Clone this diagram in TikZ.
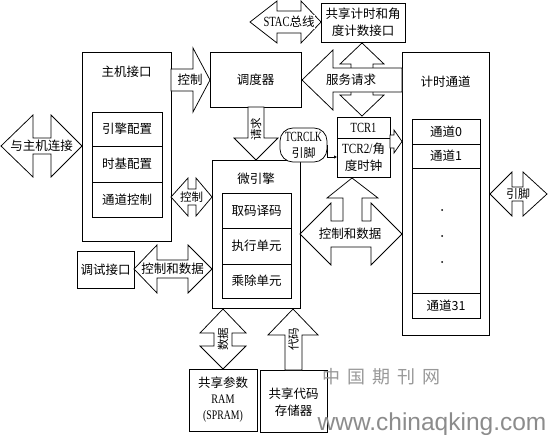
\documentclass[tikz,border=0pt]{standalone}
\usepackage{fontspec}
\setmainfont{Noto Sans CJK SC}
\newfontfamily\lat{Liberation Serif}
\newfontfamily\wmfont{Liberation Sans}
\usetikzlibrary{arrows.meta}
\newcommand{\latx}[3]{\scalebox{#1}[1]{\lat\fontsize{#2}{14}\selectfont #3}}
\tikzset{
  box/.style={draw, line width=0.75pt, inner sep=0pt, outer sep=0pt, anchor=north west},
  barrow/.style={draw, fill=white, line width=0.75pt, line join=miter},
  lbl/.style={fill=white, inner xsep=0.5pt, inner ysep=1pt},
  vlbl/.style={fill=white, inner xsep=0.5pt, inner ysep=0.5pt, rotate=90, font=\fontsize{11.5}{12}\selectfont},
  every node/.style={font=\fontsize{12.5}{17}\selectfont}
}
\begin{document}
\begin{tikzpicture}[x=1pt,y=-1pt]
\fill[white] (0,0) rectangle (548,434);
\useasboundingbox (0,0) rectangle (548,434);

% ---- boxes ----
\node[box, minimum width=89, minimum height=189] (host) at (82,52) {};
\node (hostt) at (126.5,72) {主机接口};
\node[box, minimum width=70, minimum height=34] (h1) at (92,112) {};
\node[box, minimum width=70, minimum height=36] (h2) at (92,146) {};
\node[box, minimum width=70, minimum height=35] (h3) at (92,182) {};
\node at (h1.center) {引擎配置};
\node at (h2.center) {时基配置};
\node at (h3.center) {通道控制};

\node[box, minimum width=91, minimum height=55] (sched) at (210,52) {};
\node at (sched.center) {调度器};

\node[box, minimum width=88, minimum height=148] (eng) at (212,160) {};
\node (engt) at (256,179) {微引擎};
\node[box, minimum width=69, minimum height=35] (e1) at (222,193) {};
\node[box, minimum width=69, minimum height=36] (e2) at (222,228) {};
\node[box, minimum width=69, minimum height=34] (e3) at (222,264) {};
\node at (e1.center) {取码译码};
\node at (e2.center) {执行单元};
\node at (e3.center) {乘除单元};

\node[box, minimum width=57, minimum height=37] (dbg) at (77,251) {};
\node at (dbg.center) {调试接口};

\node[box, minimum width=68, minimum height=62] (spram) at (189,369) {};
\node[align=center, font=\fontsize{12.5}{16}\selectfont] at (spram.center) {共享参数\\\latx{0.78}{13}{RAM}\\\latx{0.75}{13}{(SPRAM)}};

\node[box, minimum width=67, minimum height=62] (code) at (260,370) {};
\node[align=center] at ([yshift=-1]code.center) {共享代码\\存储器};

\node[box, minimum width=84, minimum height=39] (shr) at (321,3) {};
\node[align=center] at (shr.center) {共享计时和角\\度计数接口};

\node[box, minimum width=87, minimum height=283] (tmr) at (402,52) {};
\node (tmrt) at (445.5,82) {计时通道};
\node[box, minimum width=68, minimum height=199] (tin) at (412,119) {};
\node[box, minimum width=68, minimum height=25] (c0) at (412,119) {};
\node[box, minimum width=68, minimum height=24] (c1) at (412,144) {};
\node[box, minimum width=68, minimum height=25] (c31) at (412,293) {};
\node at (c0.center) {通道0};
\node at (c1.center) {通道1};
\node at (c31.center) {通道31};
\fill (442,210) circle (1pt);
\fill (442,236) circle (1pt);
\fill (442,262) circle (1pt);

\node[box, minimum width=53, minimum height=60] (tcr) at (337,117) {};
\draw[line width=0.75pt] (337,138) -- (390,138);
\node at (363.5,127.5) {\latx{0.75}{14}{TCR1}};
\node[align=center] at (363.5,157) {\latx{0.8}{14}{TCR2/}角\\度时钟};

% ---- block arrows ----
% host link
\draw[barrow] (1,146) -- (33,115) -- (33,138) -- (51,138) -- (51,115) -- (82,146) -- (51,177) -- (51,154) -- (33,154) -- (33,177) -- cycle;
\node[lbl] (tA) at (41.5,146) {与主机连接};
% host -> scheduler
\draw[barrow] (171,69) -- (193,69) -- (193,48) -- (210,80) -- (193,112) -- (193,91) -- (171,91) -- cycle;
\node[lbl] (tB) at (190,80) {控制};
% scheduler -> engine
\draw[barrow] (248,107) -- (264,107) -- (264,138) -- (278,138) -- (256,160) -- (234,138) -- (248,138) -- cycle;
\node[vlbl] (tC) at (256,129) {请求};
% host <-> engine
\draw[barrow] (171,197) -- (188,178) -- (188,189) -- (196,189) -- (196,178) -- (212,197) -- (196,216) -- (196,205) -- (188,205) -- (188,216) -- cycle;
\node[lbl, font=\fontsize{11.5}{12}\selectfont] (tD) at (191.5,197) {控制};
% debug <-> engine
\draw[barrow] (134,269) -- (157,245) -- (157,260) -- (188,260) -- (188,245) -- (212,269) -- (188,293) -- (188,278) -- (157,278) -- (157,293) -- cycle;
\node[lbl] (tE) at (172.5,269) {控制和数据};
% engine <-> SPRAM
\draw[barrow] (223,309) -- (246,333) -- (232,333) -- (232,346) -- (246,346) -- (223,369) -- (200,346) -- (214,346) -- (214,333) -- (200,333) -- cycle;
\node[vlbl] (tF) at (223,339) {数据};
% code -> engine
\draw[barrow] (293,309) -- (318,335) -- (302,335) -- (302,370) -- (285,370) -- (285,335) -- (268,335) -- cycle;
\node[vlbl] (tG) at (293.5,339) {代码};
% STAC bus
\draw[barrow] (250,22) -- (277,1) -- (277,11) -- (301,11) -- (301,1) -- (321,22) -- (301,43) -- (301,33) -- (277,33) -- (277,43) -- cycle;
\node[lbl] (tH) at (289,22) {\latx{0.75}{14}{STAC}总线};
% shared interface <-> TCR
\draw[barrow] (362,43) -- (384,64) -- (373,64) -- (373,95) -- (384,95) -- (362,116) -- (340,95) -- (351,95) -- (351,64) -- (340,64) -- cycle;
% service request
\draw[barrow] (302,80) -- (333,50) -- (333,68) -- (402,68) -- (402,92) -- (333,92) -- (333,110) -- cycle;
\node[lbl] (tJ) at (351,80) {服务请求};
% control and data (engine <-> timer, up to TCR)
\draw[barrow] (300,234) -- (331,203) -- (331,221) -- (343,221) -- (343,198) -- (327,198) -- (352,178) -- (378,198) -- (362,198) -- (362,221) -- (371,221) -- (371,203) -- (402,234) -- (371,265) -- (371,247) -- (331,247) -- (331,265) -- cycle;
\node[lbl] (tK) at (350,234) {控制和数据};
% TCR -> timer
\draw[barrow] (390,135) -- (394,135) -- (394,130) -- (402,141.5) -- (394,153) -- (394,148) -- (390,148) -- cycle;
% pins
\draw[barrow] (490,194) -- (512,172) -- (512,187) -- (523,187) -- (523,172) -- (547,194) -- (523,216) -- (523,201) -- (512,201) -- (512,216) -- cycle;
\node[lbl, font=\fontsize{12}{12}\selectfont] (tM) at (518,194) {引脚};

% TCRCLK pin
\node[draw, fill=white, line width=0.75pt, rounded corners=13pt, minimum width=47, minimum height=34, inner sep=0pt] (clk) at (303.5,145) {};
\node[align=center, font=\fontsize{12}{16}\selectfont] (clkt) at (clk.center) {\latx{0.67}{14}{TCRCLK}\\引脚};
\coordinate (k1) at (337,157);
\draw[line width=0.75pt, -{Latex[length=3pt,width=3.5pt]}] (clk.east) |- (k1);

% watermark
\node[text=black!40, font=\fontsize{18}{18}\selectfont] (wm1) at (381.5,377) {中\hspace{7pt}国\hspace{7pt}期\hspace{7pt}刊\hspace{7pt}网};
\node[text=black!45, anchor=base, font=\wmfont\fontsize{24.5}{25}\selectfont] (wm2) at (432,430) {www.chinaqking.com};
\end{tikzpicture}
\end{document}
